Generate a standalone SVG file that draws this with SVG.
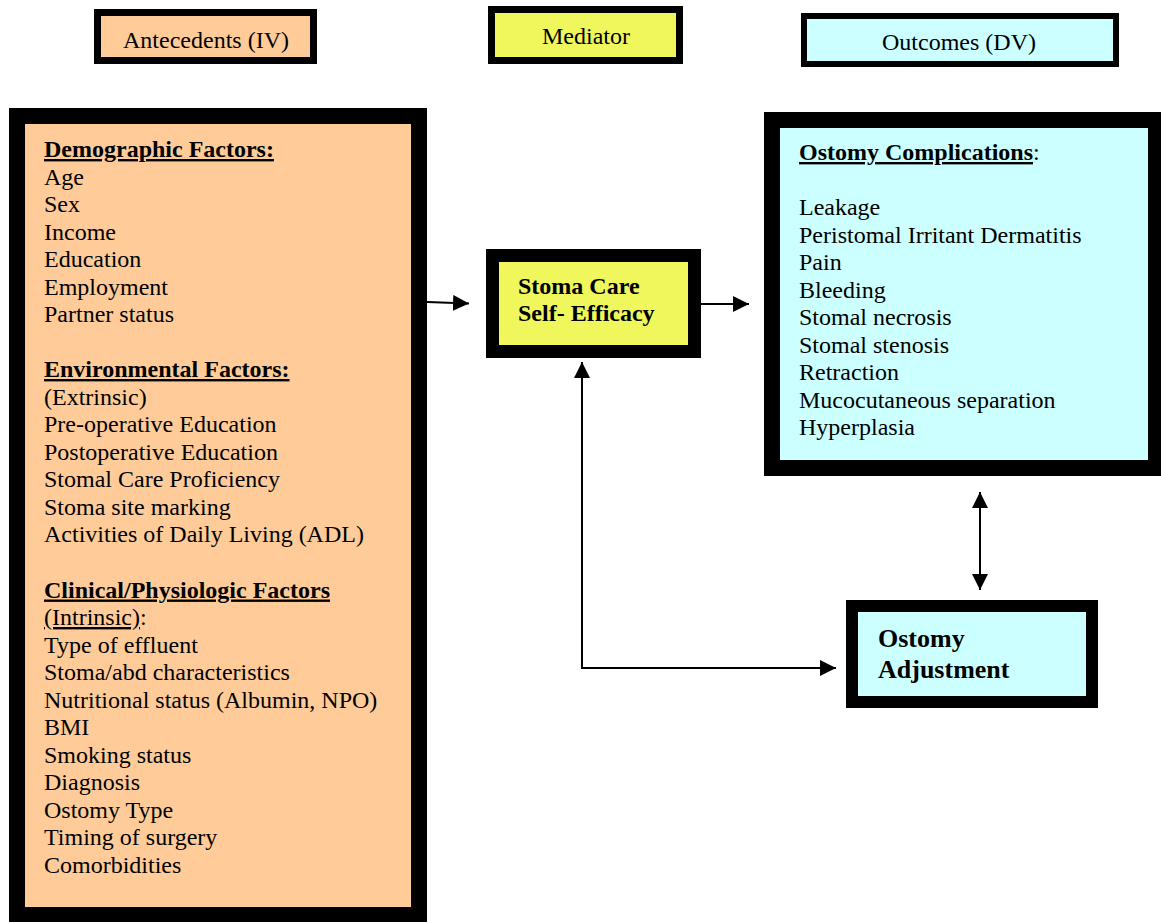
<svg xmlns="http://www.w3.org/2000/svg" width="1161" height="922" viewBox="0 0 1161 922">
<style>
.t{font-family:"Liberation Serif","Times New Roman",serif;font-size:24px;fill:#000}
.b{font-weight:bold}
.u{text-decoration:underline}
.peach{fill:#FFCC99;stroke:#000}
.yellow{fill:#F0F75C;stroke:#000}
.cyan{fill:#CCFFFF;stroke:#000}
.c{fill:none;stroke:#000;stroke-width:2}
</style>
<defs>
<marker id="ah" markerUnits="userSpaceOnUse" markerWidth="16" markerHeight="16" refX="16" refY="8" orient="auto-start-reverse">
<path d="M0,0 L16,8 L0,16 z" fill="#000"/>
</marker>
</defs>
<rect width="1161" height="922" fill="#fff"/>

<g id="legend-antecedents">
<rect class="peach" x="97.5" y="12.5" width="216" height="48" stroke-width="7"/>
<text class="t" x="206" y="48" text-anchor="middle">Antecedents (IV)</text>
</g>
<g id="legend-mediator">
<rect class="yellow" x="491.5" y="9.5" width="188" height="51" stroke-width="7"/>
<text class="t" x="586" y="44" text-anchor="middle">Mediator</text>
</g>
<g id="legend-outcomes">
<rect class="cyan" x="804" y="16" width="312" height="48" stroke-width="6"/>
<text class="t" x="959" y="50" text-anchor="middle">Outcomes (DV)</text>
</g>

<g id="antecedents">
<rect class="peach" x="17" y="116" width="402" height="799" stroke-width="16"/>
<text class="t" x="44">
<tspan x="44" y="157" class="b u">Demographic Factors:</tspan>
<tspan x="44" y="184.5">Age</tspan>
<tspan x="44" y="212">Sex</tspan>
<tspan x="44" y="239.5">Income</tspan>
<tspan x="44" y="267">Education</tspan>
<tspan x="44" y="294.5">Employment</tspan>
<tspan x="44" y="322">Partner status</tspan>
<tspan x="44" y="377" class="b u">Environmental Factors:</tspan>
<tspan x="44" y="404.5">(Extrinsic)</tspan>
<tspan x="44" y="432">Pre-operative Education</tspan>
<tspan x="44" y="459.5">Postoperative Education</tspan>
<tspan x="44" y="487">Stomal Care Proficiency</tspan>
<tspan x="44" y="514.5">Stoma site marking</tspan>
<tspan x="44" y="542">Activities of Daily Living (ADL)</tspan>
<tspan x="44" y="597.5" class="b u">Clinical/Physiologic Factors</tspan>
<tspan x="44" y="625" class="u">(Intrinsic)</tspan><tspan>:</tspan>
<tspan x="44" y="652.5">Type of effluent</tspan>
<tspan x="44" y="680">Stoma/abd characteristics</tspan>
<tspan x="44" y="707.5">Nutritional status (Albumin, NPO)</tspan>
<tspan x="44" y="735">BMI</tspan>
<tspan x="44" y="762.5">Smoking status</tspan>
<tspan x="44" y="790">Diagnosis</tspan>
<tspan x="44" y="817.5">Ostomy Type</tspan>
<tspan x="44" y="845">Timing of surgery</tspan>
<tspan x="44" y="872.5">Comorbidities</tspan>
</text>
</g>

<g id="self-efficacy">
<rect class="yellow" x="492.5" y="255.5" width="202" height="96" stroke-width="13"/>
<text class="t b" x="518" y="294">Stoma Care</text>
<text class="t b" x="518" y="321">Self- Efficacy</text>
</g>

<g id="complications">
<rect class="cyan" x="772" y="120" width="384" height="348" stroke-width="16"/>
<text class="t" x="799">
<tspan x="799" y="160"><tspan class="b u">Ostomy Complications</tspan>:</tspan>
<tspan x="799" y="215">Leakage</tspan>
<tspan x="799" y="242.5">Peristomal Irritant Dermatitis</tspan>
<tspan x="799" y="270">Pain</tspan>
<tspan x="799" y="297.5">Bleeding</tspan>
<tspan x="799" y="325">Stomal necrosis</tspan>
<tspan x="799" y="352.5">Stomal stenosis</tspan>
<tspan x="799" y="380">Retraction</tspan>
<tspan x="799" y="407.5">Mucocutaneous separation</tspan>
<tspan x="799" y="435">Hyperplasia</tspan>
</text>
</g>

<g id="adjustment">
<rect class="cyan" x="852" y="606" width="240" height="96" stroke-width="12"/>
<text class="t b" x="878" y="647" style="font-size:26px">Ostomy</text>
<text class="t b" x="878" y="678" style="font-size:26px">Adjustment</text>
</g>

<g id="connectors">
<path class="c" d="M427,302 L469,303.5" marker-end="url(#ah)"/>
<path class="c" d="M701,304 L749,304" marker-end="url(#ah)"/>
<path class="c" d="M980,492 L980,590" marker-start="url(#ah)" marker-end="url(#ah)"/>
<path class="c" d="M582,362 L582,668 L836,668" marker-start="url(#ah)" marker-end="url(#ah)"/>
</g>
</svg>
